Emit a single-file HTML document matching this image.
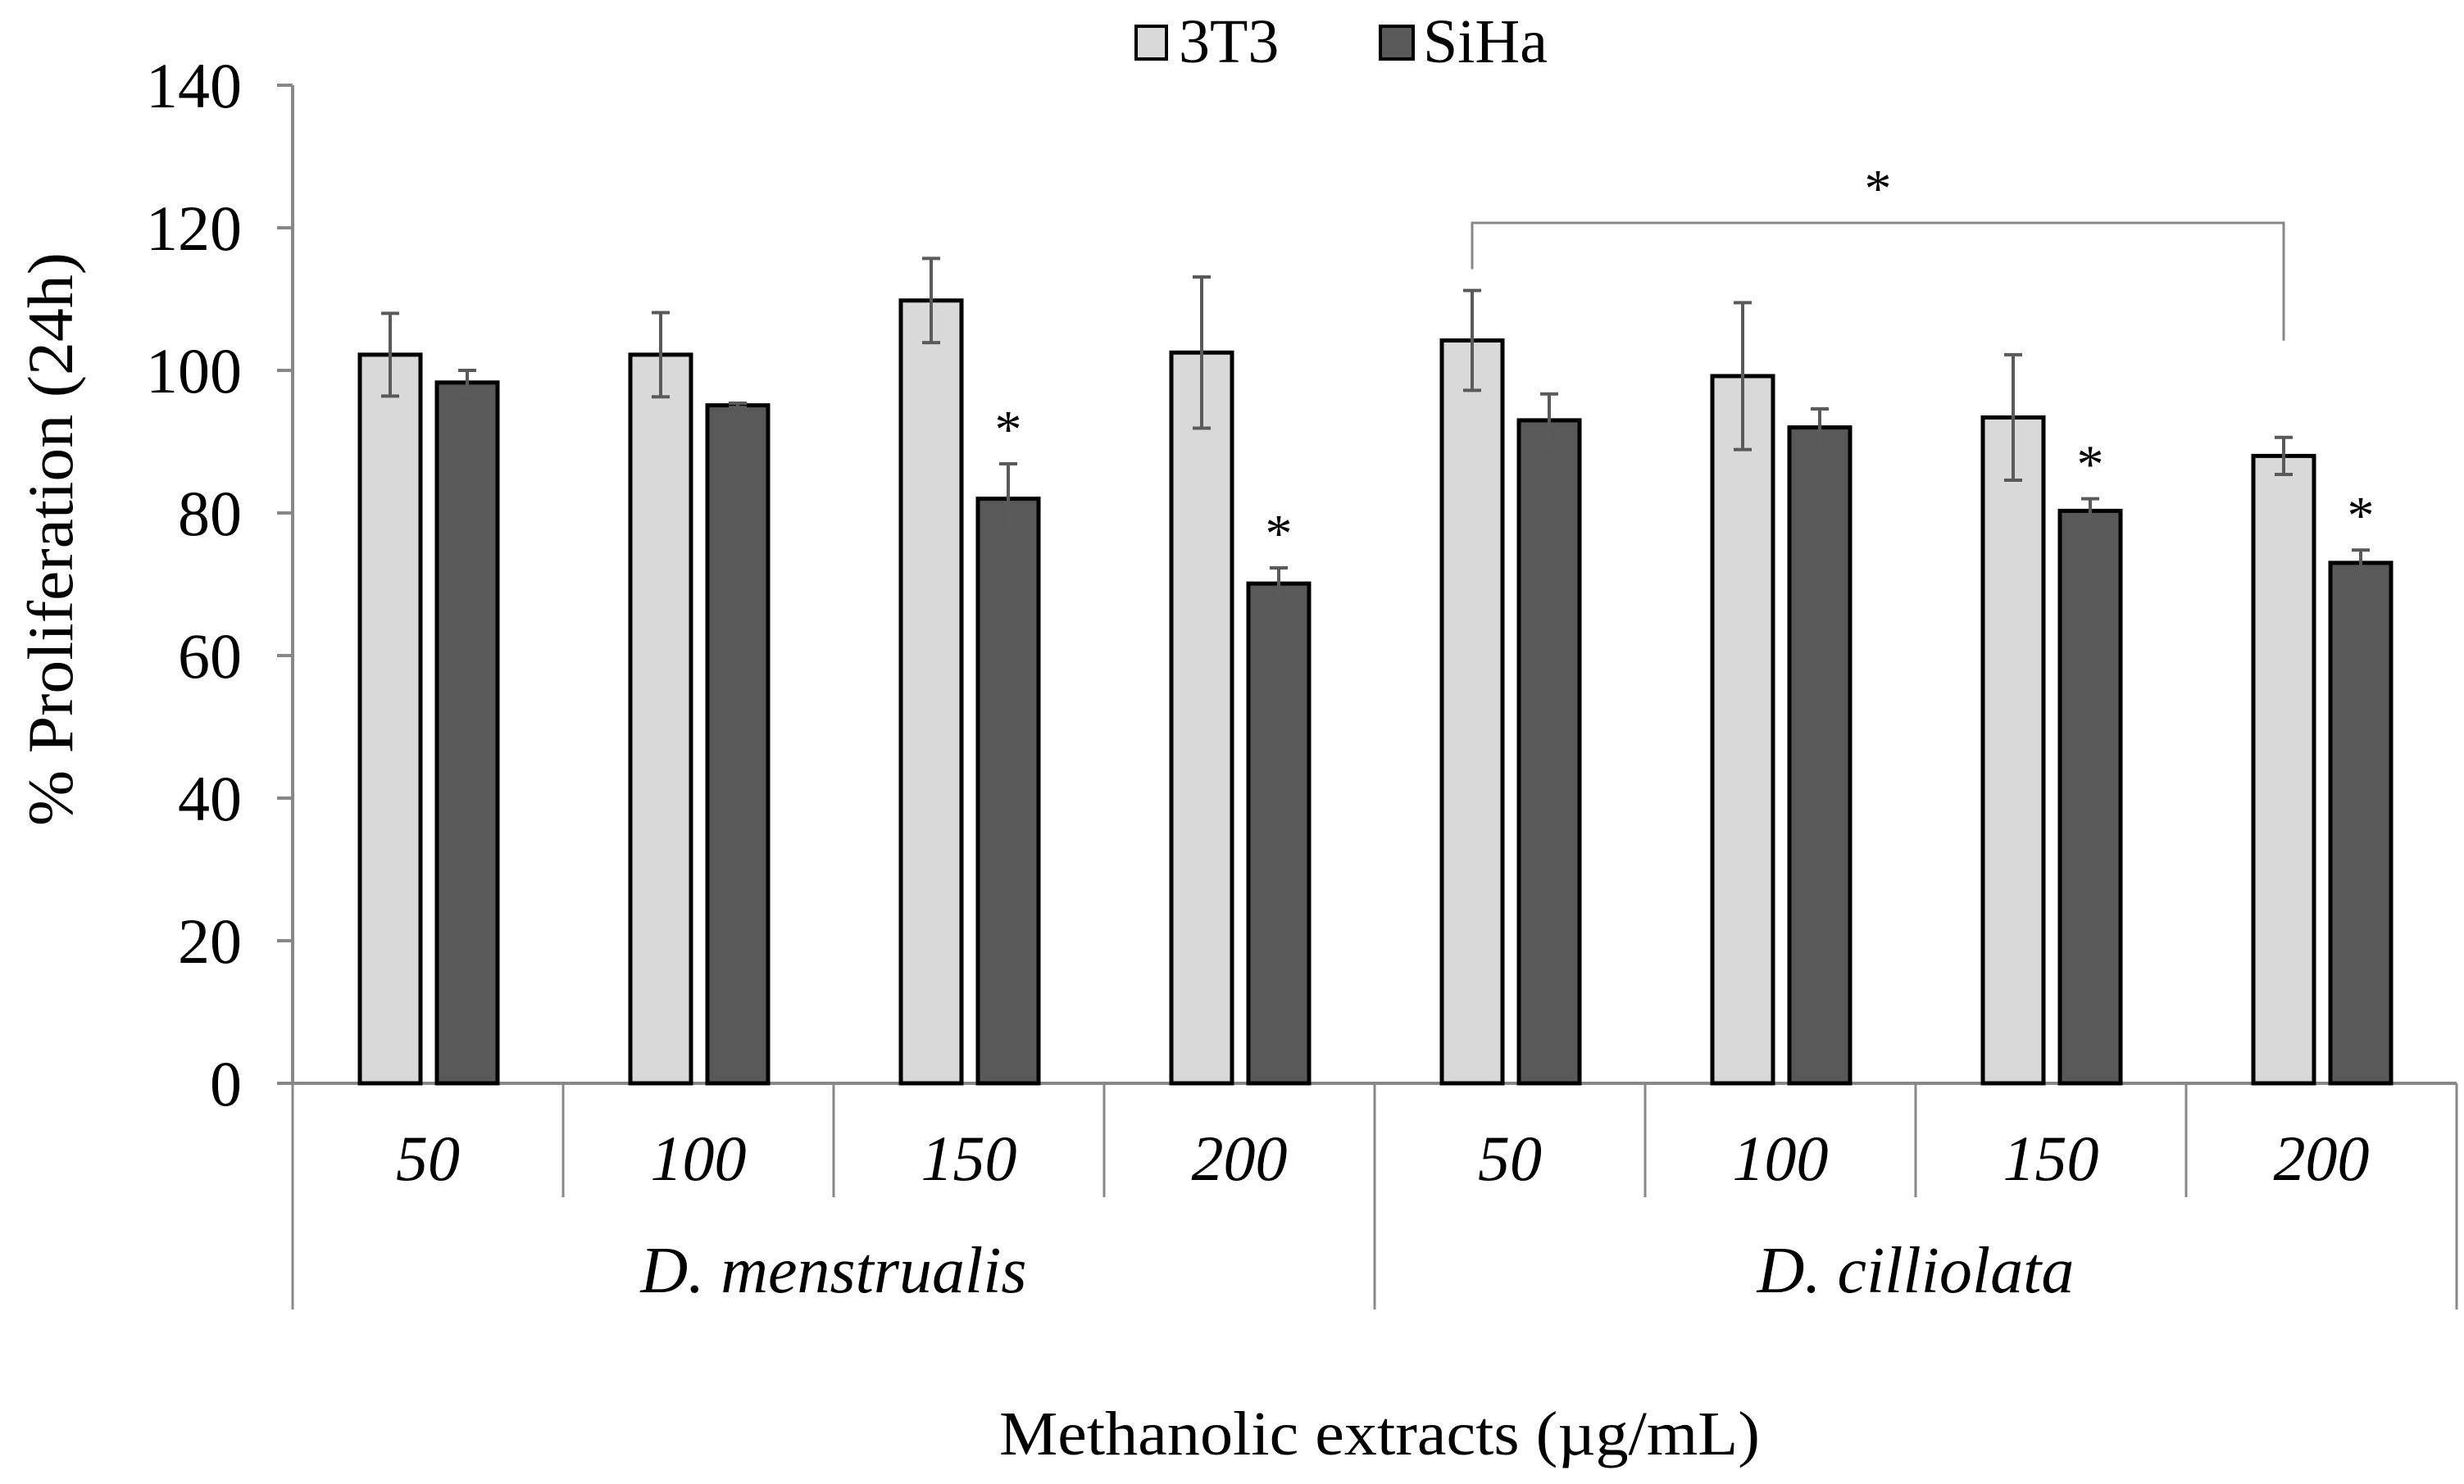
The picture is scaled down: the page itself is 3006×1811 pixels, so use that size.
<!DOCTYPE html>
<html><head><meta charset="utf-8"><style>
html,body{margin:0;padding:0;background:#fff;}
svg{display:block;font-family:"Liberation Serif",serif;}
</style></head><body>
<svg id="chart" width="3006" height="1811" viewBox="0 0 3006 1811" xmlns="http://www.w3.org/2000/svg">
<g id="axes"></g><g id="bars"></g>
<g>
  <rect x="1386" y="32" width="37" height="40" fill="#d9d9d9" stroke="#000" stroke-width="4"/>
  <text x="1438" y="76" font-size="76">3T3</text>
  <rect x="1684" y="32" width="40" height="40" fill="#595959" stroke="#000" stroke-width="4"/>
  <text x="1736" y="76" font-size="76">SiHa</text>
</g>
<text transform="translate(88,658) rotate(-90)" text-anchor="middle" font-size="78" textLength="700" lengthAdjust="spacingAndGlyphs">% Proliferation (24h)</text>
<text x="1683" y="1775" text-anchor="middle" font-size="76" textLength="928" lengthAdjust="spacingAndGlyphs">Methanolic extracts (µg/mL)</text>
</svg>
<script>
const categories = ["50","100","150","200","50","100","150","200"];
const groups = ["D. menstrualis","D. cilliolata"];
const values3T3 = [102.2,102.2,109.8,102.5,104.2,99.2,93.4,88.0];
const err3T3 = [5.8,5.9,5.9,10.6,7.0,10.3,8.8,2.6];
const valuesSiHa = [98.3,95.1,82.0,70.1,93.0,92.0,80.3,73.0];
const errSiHa = [1.7,0.3,4.9,2.2,3.7,2.6,1.7,1.8];
const sigSiHa = [false,false,true,true,false,false,true,true];
const yTicks = [0,20,40,60,80,100,120,140];
const bracketFrom = 4, bracketTo = 7;

const NS="http://www.w3.org/2000/svg";
const X0=357, CW=330, Y0=1322, PPU=8.7;
const yS=v=>Y0-v*PPU;
const catX=i=>X0+i*CW;
function mk(parent,tag,attrs,text){const e=document.createElementNS(NS,tag);for(const k in attrs)e.setAttribute(k,attrs[k]);if(text!==undefined)e.textContent=text;parent.appendChild(e);return e;}
const axes=document.getElementById('axes'), bars=document.getElementById('bars');
const AX="#888";
let e;
e=mk(axes,'line',{x1:X0,y1:yS(140),x2:X0,y2:Y0,stroke:AX,'stroke-width':4});


yTicks.forEach(t=>{
  e=mk(axes,'line',{x1:X0-19,y1:yS(t),x2:X0,y2:yS(t),stroke:AX,'stroke-width':4});
  
  
  e=mk(axes,'text',{x:295,y:yS(t)+27,'text-anchor':'end','font-size':78},String(t));
  
  
});
e=mk(axes,'line',{x1:X0-19,y1:Y0,x2:catX(8),y2:Y0,stroke:AX,'stroke-width':4});


for(let i=0;i<=8;i++){
  const long=(i%4===0);
  e=mk(axes,'line',{x1:catX(i),y1:Y0,x2:catX(i),y2:long?1598:1461,stroke:AX,'stroke-width':3});
  
  
}
categories.forEach((c,i)=>{
  e=mk(axes,'text',{x:catX(i)+CW/2,y:1440,'text-anchor':'middle','font-size':78,'font-style':'italic'},c);
  
  
});
groups.forEach((g,j)=>{
  e=mk(axes,'text',{x:catX(j*4)+2*CW,y:1577,'text-anchor':'middle','font-size':80,'font-style':'italic'},g);
  
  
});
const BW=74;
function drawBar(i,v,er,off,fill,name){
  const x=catX(i)+off;
  e=mk(bars,'rect',{x:x,y:yS(v),width:BW,height:Y0-yS(v),fill:fill,stroke:'#000','stroke-width':5});
  
  
  const cx=x+BW/2;
  const g=mk(bars,'g',{stroke:'#5a5a5a','stroke-width':4});
  
  
  mk(g,'line',{x1:cx,y1:yS(v+er),x2:cx,y2:yS(v-er)});
  mk(g,'line',{x1:cx-11,y1:yS(v+er),x2:cx+11,y2:yS(v+er)});
  mk(g,'line',{x1:cx-11,y1:yS(v-er),x2:cx+11,y2:yS(v-er)});
  return cx;
}
for(let i=0;i<8;i++){
  drawBar(i,values3T3[i],err3T3[i],82,'#d9d9d9','bar-3t3');
  const cx=drawBar(i,valuesSiHa[i],errSiHa[i],176,'#595959','bar-siha');
  if(sigSiHa[i]){
    e=mk(bars,'text',{x:cx,y:yS(valuesSiHa[i]+errSiHa[i])-20,'text-anchor':'middle','font-size':66},'*');
    
    
  }
}
const bx1=catX(bracketFrom)+82+BW/2, bx2=catX(bracketTo)+82+BW/2;
e=mk(bars,'polyline',{points:`${bx1},${yS(values3T3[bracketFrom]+err3T3[bracketFrom])-26} ${bx1},272 ${bx2},272 ${bx2},${yS(values3T3[bracketTo]+err3T3[bracketTo])-118}`,fill:'none',stroke:'#888','stroke-width':3});


e=mk(bars,'text',{x:(bx1+bx2)/2,y:252,'text-anchor':'middle','font-size':66},'*');


</script>
</body></html>
